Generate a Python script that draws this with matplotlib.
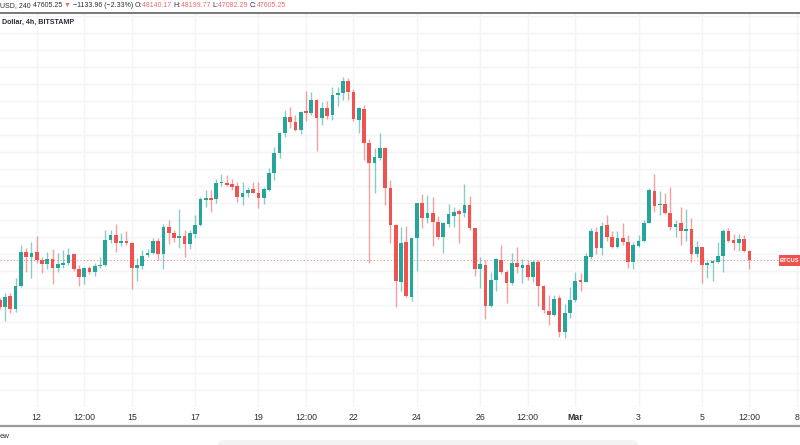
import matplotlib
matplotlib.use("Agg")
import matplotlib.pyplot as plt
import matplotlib.dates as mdates
from matplotlib.lines import Line2D
from matplotlib.patches import FancyBboxPatch, Rectangle
import numpy as np
from datetime import datetime, timedelta

# BTC/USD 4h candles, Bitstamp
start = datetime(2021, 2, 10, 20, 0)

opens = [45270, 44840, 45490, 44740, 46090, 48080, 47780, 48080, 47620, 47370,
         47660, 47130, 47330, 47430, 47960, 47080, 46610, 47130, 46930, 47270,
         47330, 48800, 49090, 48610, 48720, 48610, 47130, 47290, 47900, 48020,
         48740, 47960, 49580, 49190, 48920, 49030, 48550, 49130, 49680, 51150,
         51290, 51190, 52130, 52170, 52080, 51980, 51350, 51550, 51780, 51580,
         51250, 51740, 52720, 53900, 55080, 56020, 55760, 55270, 56390, 56250,
         57030, 55960, 56580, 56150, 57330, 57430, 58150, 57520, 55860, 56500,
         54520, 53310, 53640, 54190, 51840, 49680, 46350, 48700, 45460, 48930,
         50960, 50080, 50400, 49840, 48990, 49740, 50230, 50500, 50370, 50860,
         49490, 47080, 47330, 44920, 46450, 47620, 46930, 46290, 47460, 47170,
         47330, 46610, 47520, 46090, 44620, 44390, 45370, 43410, 44520, 45270,
         46450, 46350, 47820, 49290, 48310, 49680, 48990, 48410, 48900, 48700,
         47490, 48460, 48740, 49820, 51700, 50860, 50920, 50400, 49580, 49780,
         49350, 49450, 47980, 48370, 47310, 47430, 47520, 47860, 49350, 48800,
         48640, 48860, 48140.17]

highs = [45390, 45700, 45700, 46550, 48510, 48310, 48700, 49030, 47820, 48110,
         48250, 48020, 48210, 48310, 48020, 47330, 47230, 47270, 47430, 47820,
         49390, 49390, 49740, 49190, 49330, 48700, 47740, 48210, 48250, 48900,
         48900, 49740, 49980, 49390, 50600, 49390, 49390, 50270, 51350, 51740,
         51740, 52370, 52680, 52620, 52370, 52230, 52230, 51900, 52230, 52230,
         51930, 53020, 54250, 55170, 56450, 56640, 56150, 56400, 57580, 57520,
         57080, 56930, 56980, 57820, 57820, 58400, 58310, 57660, 56640, 56740,
         54720, 54190, 55080, 54250, 52330, 49720, 49580, 49620, 48900, 50990,
         51500, 51450, 51310, 50210, 49880, 50920, 50760, 50600, 52090, 51390,
         49520, 47820, 47620, 46930, 47720, 48510, 47030, 48050, 48370, 47660,
         47620, 47620, 47620, 46150, 45560, 45560, 45560, 45030, 46020, 46930,
         46840, 48050, 49490, 49580, 49880, 50270, 49350, 49350, 49780, 49090,
         48700, 49090, 49980, 51840, 52680, 51700, 51550, 51900, 49980, 50760,
         50600, 50080, 48760, 48400, 47580, 47620, 48700, 49430, 49490, 49150,
         49150, 49090, 48199.77]

lows = [44740, 44050, 44490, 44580, 46050, 46930, 46550, 47460, 46840, 47080,
        46190, 46930, 47130, 47330, 46980, 46090, 46210, 46800, 46680, 47130,
        47270, 48610, 48110, 48460, 48510, 45900, 46390, 47080, 47820, 47980,
        47620, 47080, 48560, 48700, 48350, 47780, 48250, 48900, 49620, 50760,
        50460, 50990, 51980, 51980, 51740, 51050, 50860, 51350, 51550, 50660,
        50920, 51700, 52330, 53640, 54880, 55370, 55210, 55030, 55800, 56150,
        54050, 55560, 55900, 55860, 56680, 57030, 57030, 55820, 55110, 53500,
        47430, 51550, 53500, 50860, 48610, 44880, 45820, 45460, 45230, 46990,
        49490, 49780, 48460, 48840, 48050, 49580, 49580, 48640, 50170, 49390,
        46680, 45990, 44130, 44880, 45820, 46800, 45080, 46130, 46840, 46250,
        46450, 46350, 44920, 44520, 43800, 44330, 43110, 43020, 44190, 45170,
        45820, 46300, 47660, 47980, 47920, 48760, 48310, 48310, 48510, 47130,
        47080, 48410, 48660, 49780, 50460, 50270, 50330, 49390, 48990, 48510,
        48760, 47520, 47780, 46290, 46550, 46410, 47430, 46930, 48700, 48210,
        48170, 48110, 47082.29]

closes = [44860, 45430, 44740, 46110, 48080, 47820, 48020, 47620, 47370, 47660,
          47130, 47370, 47430, 47920, 47080, 46610, 47130, 46930, 47270, 47350,
          48800, 49090, 48610, 48760, 48610, 47130, 47330, 47860, 48020, 48740,
          47960, 49580, 49190, 48900, 49030, 48550, 49190, 49680, 51210, 51250,
          51150, 52130, 52210, 52030, 51930, 51350, 51550, 51740, 51580, 51250,
          51780, 52720, 53900, 55080, 56020, 55760, 55270, 56350, 56250, 57030,
          55960, 56580, 56110, 57330, 57430, 58150, 57520, 55920, 56550, 54520,
          53310, 53660, 54190, 51840, 49680, 46410, 48610, 45510, 48900, 50960,
          50080, 50370, 49840, 48990, 49780, 50330, 50430, 50310, 50860, 49490,
          47080, 47390, 44920, 46450, 47660, 46930, 46290, 47430, 47190, 47330,
          46610, 47520, 46090, 44680, 44390, 45310, 43410, 44520, 45270, 46410,
          46350, 47860, 49330, 48310, 49620, 48990, 48410, 48900, 48700, 47490,
          48510, 48740, 49820, 51740, 50800, 50920, 50370, 49580, 49740, 49350,
          49450, 47980, 48370, 47330, 47460, 47560, 47860, 49350, 48760, 48610,
          48860, 48170, 47605.25]

last_price = 47605.25

tick_dates = [datetime(2021, 2, 12), datetime(2021, 2, 13, 12), datetime(2021, 2, 15),
              datetime(2021, 2, 17), datetime(2021, 2, 19), datetime(2021, 2, 20, 12),
              datetime(2021, 2, 22), datetime(2021, 2, 24), datetime(2021, 2, 26),
              datetime(2021, 2, 27, 12), datetime(2021, 3, 1), datetime(2021, 3, 3),
              datetime(2021, 3, 5), datetime(2021, 3, 6, 12), datetime(2021, 3, 8)]
tick_labels = ["12", "12:00", "15", "17", "19", "12:00", "22", "24", "26", "12:00",
               "Mar", "3", "5", "12:00", "8"]

header = [("USD, 240 ", "dark"), ("47605.25 ", "dark"), ("\u25bc ", "red"),
          ("\u22121133.96 (\u22122.33%) ", "dark"), ("O:", "dark"), ("48140.17 ", "red"),
          ("H:", "dark"), ("48199.77 ", "red"), ("L:", "dark"), ("47082.29 ", "red"),
          ("C:", "dark"), ("47605.25", "red")]

UP = "#26a69a"
DOWN = "#ef5350"
DARK = "#2a2e39"
LIGHT_RED = "#f26b6b"
FONT = ["Liberation Sans Narrow", "Liberation Sans", "DejaVu Sans"]
plt.rcParams["font.family"] = FONT

W, H = 800, 445
fig = plt.figure(figsize=(8, 4.45), dpi=100)
fig.patch.set_facecolor("white")

def fx(px):
    return px / W

def fy(py):
    return 1 - py / H

ax_top, ax_bot = 13, 407
ax = fig.add_axes([0, fy(ax_bot), 1, (ax_bot - ax_top) / H])

times = [start + timedelta(hours=4 * i) for i in range(len(opens))]
x = mdates.date2num(times)
o = np.array(opens); h = np.array(highs); l = np.array(lows); c = np.array(closes)
up = c >= o
cols = np.where(up, UP, DOWN)

ax.vlines(x, l, h, colors=cols, linewidth=1.0, alpha=0.55, zorder=2)
body_w = 0.7 * 4 / 24
bottom = np.minimum(o, c)
height = np.maximum(np.abs(c - o), 35)
ax.bar(x, height, bottom=bottom, width=body_w, color=cols, linewidth=0, zorder=3)

ax.set_yticks(np.arange(39000, 63000, 1000))
ax.set_xticks(mdates.date2num(tick_dates))
ax.set_xticklabels(tick_labels)

# scale: 17 px per 1000 USD, last price at y=260.3
ppx = 1000 / 17.0
ax.set_ylim(last_price - (ax_bot - 260.3) * ppx, last_price + (260.3 - ax_top) * ppx)
day_px = (797 - 36.7) / 24
x12 = mdates.date2num(datetime(2021, 2, 12))
ax.set_xlim(x12 - 36.7 / day_px, x12 + (800 - 36.7) / day_px)

for lab in ax.get_xticklabels():
    if lab.get_text() == "Mar":
        lab.set_fontweight("bold")
ax.tick_params(axis="x", length=0, pad=4, labelsize=6.3, labelcolor=DARK)
ax.tick_params(axis="y", length=0, labelleft=False)
ax.grid(True, color="#f3f4f7", linewidth=1.0, zorder=0)
ax.set_axisbelow(True)
for s in ax.spines.values():
    s.set_visible(False)

ax.axhline(last_price, xmin=0, xmax=778 / 800, color=DOWN, alpha=0.7,
           linewidth=0.8, linestyle=(0, (1, 2)), zorder=1)

# price label on the right edge
fig.add_artist(Rectangle((fx(778.5), fy(266)), fx(22), 11 / H,
                         transform=fig.transFigure, fc=DOWN, ec="none"))
fig.text(fx(780), fy(260.8), "BTCUS", fontsize=4.1, color="white", va="center",
         ha="left", fontweight="bold")

# header
fig.add_artist(Line2D([0, 1], [fy(12.5), fy(12.5)], color="#787878", linewidth=1.4))
fig.text(fx(1.5), fy(22), "Dollar, 4h, BITSTAMP", fontsize=5.1, color=DARK,
         fontweight="bold", va="center", ha="left")

renderer = fig.canvas.get_renderer()
cur = 0.0
for txt, kind in header:
    t = fig.text(fx(cur), fy(5.5), txt, fontsize=5.0, va="center", ha="left",
                 color=DARK if kind == "dark" else LIGHT_RED,
                 family=FONT + ["DejaVu Sans"])
    bb = t.get_window_extent(renderer)
    cur += bb.width

# bottom strip
fig.add_artist(Line2D([0, 1], [fy(425.5), fy(425.5)], color="#9a9a9a", linewidth=1.6))
fig.text(fx(0), fy(437), "ew", fontsize=5.6, color=DARK, va="center", ha="left")
fig.add_artist(FancyBboxPatch((fx(218), fy(452)), fx(420), 12 / H,
                              boxstyle="round,pad=0,rounding_size=0.01",
                              transform=fig.transFigure, fc="#f3f3f3", ec="none"))

fig.savefig("out.png", dpi=100, facecolor="white")
